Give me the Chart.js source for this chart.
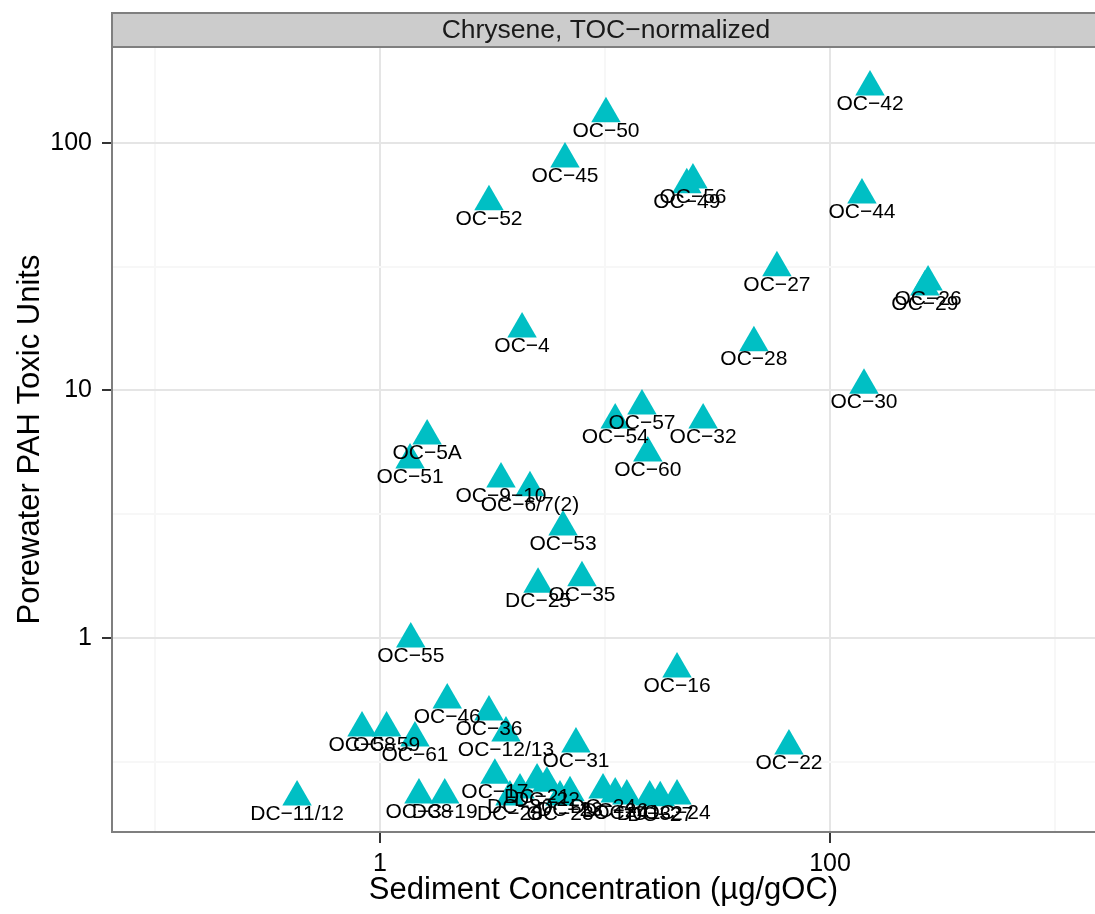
<!DOCTYPE html>
<html>
<head>
<meta charset="utf-8">
<script src="https://cdn.jsdelivr.net/npm/chart.js@4.4.0/dist/chart.umd.min.js"></script>
<style>
  html, body { margin: 0; padding: 0; background: #fff; }
  #wrap { width: 1095px; height: 914px; }
</style>
</head>
<body>
<div id="wrap"><canvas id="grafico" width="1095" height="914"></canvas></div>
<script>
// dados (escala log-log)
const siteLabels = [
  'OC−42', 'OC−50', 'OC−45', 'OC−56', 'OC−49', 'OC−52', 'OC−44', 'OC−27', 'OC−26', 'OC−29',
  'OC−28', 'OC−30', 'OC−4', 'OC−57', 'OC−54', 'OC−32', 'OC−60', 'OC−5A', 'OC−51', 'OC−9−10',
  'OC−6/7(2)', 'OC−53', 'DC−25', 'OC−35', 'OC−55', 'OC−16', 'OC−22', 'OC−46', 'OC−36', 'OC−12/13',
  'OC−58', 'OC−59', 'OC−61', 'OC−31', 'DC−11/12', 'OC−38', 'DC−19', 'OC−17', 'DC−28', 'DC−20',
  'DC−21', 'DC−22', 'OC−23', 'DC−23', 'DC−24', 'DC−26', 'OC−41', 'DC−32', 'DC−27', 'OC−24'
];
const sedimentConc = [
  150.6, 10.1, 6.64, 24.6, 23.1, 3.05, 138.7, 58.1, 272.8, 264,
  45.9, 141.6, 4.28, 14.6, 11.1, 27.3, 15.5, 1.62, 1.36, 3.45,
  4.64, 6.51, 5.04, 7.9, 1.37, 20.9, 65.7, 1.99, 3.05, 3.63,
  0.832, 1.07, 1.43, 7.43, 0.428, 1.49, 1.94, 3.24, 3.78, 4.19,
  4.99, 5.52, 6.31, 6.99, 9.8, 11.1, 12.5, 15.8, 17.6, 20.9
];
const toxicUnits = [
  168, 131, 86.1, 70.8, 67.7, 57.8, 61.6, 31.3, 27.4, 26.2,
  15.6, 10.5, 17.7, 8.66, 7.6, 7.6, 5.59, 6.55, 5.24, 4.39,
  4.04, 2.81, 1.65, 1.75, 0.99, 0.749, 0.366, 0.562, 0.502, 0.413,
  0.433, 0.433, 0.394, 0.373, 0.228, 0.232, 0.232, 0.279, 0.228, 0.243,
  0.267, 0.259, 0.228, 0.237, 0.243, 0.234, 0.230, 0.228, 0.226, 0.230
];
const xMajorTicks = [1, 100];
const xMinorTicks = [0.1, 10, 1000];
const yMajorTicks = [1, 10, 100];
const yMinorTicks = [0.3162, 3.162, 31.62];
const stripTitle = 'Chrysene, TOC−normalized';

const fonte = '"Liberation Sans", Arial, sans-serif';
Chart.defaults.font.family = fonte;
Chart.defaults.color = '#000';

const pontos = sedimentConc.map((x, i) => ({ x: x, y: toxicUnits[i] }));

function corGrade(majors) {
  return ctx => majors.includes(ctx.tick.value) ? '#E5E5E5' : '#F7F7F7';
}
function corTick(majors) {
  return ctx => majors.includes(ctx.tick.value) ? '#333333' : 'rgba(0,0,0,0)';
}

// faixa do título e borda do painel
const painel = {
  id: 'painel',
  beforeDraw(chart) {
    const c = chart.ctx;
    c.save();
    c.fillStyle = '#fff';
    c.fillRect(0, 0, chart.width, chart.height);
    c.restore();
  },
  afterDraw(chart) {
    const c = chart.ctx;
    const a = chart.chartArea;
    c.save();
    c.fillStyle = '#CCCCCC';
    c.fillRect(a.left, 13, a.right - a.left, a.top - 13);
    c.strokeStyle = '#7F7F7F';
    c.lineWidth = 2;
    c.strokeRect(a.left, 13, a.right - a.left + 4, a.top - 13);
    c.fillStyle = '#1A1A1A';
    c.font = '26.5px ' + fonte;
    c.textAlign = 'center';
    c.textBaseline = 'middle';
    c.fillText(stripTitle, 606, 31);
    c.strokeRect(a.left, a.top, a.right - a.left + 4, a.bottom - a.top);
    c.restore();
  }
};

// rótulos de cada ponto
const rotulos = {
  id: 'rotulos',
  afterDatasetsDraw(chart) {
    const c = chart.ctx;
    const meta = chart.getDatasetMeta(0);
    c.save();
    c.fillStyle = '#000';
    c.font = '21px ' + fonte;
    c.textAlign = 'center';
    c.textBaseline = 'middle';
    meta.data.forEach((p, i) => {
      c.fillText(siteLabels[i], p.x, p.y + 17);
    });
    c.restore();
  }
};

new Chart(document.getElementById('grafico'), {
  type: 'scatter',
  data: {
    datasets: [{
      data: pontos,
      pointStyle: 'triangle',
      pointRadius: 17,
      backgroundColor: '#00BFC4',
      borderWidth: 0
    }]
  },
  options: {
    responsive: false,
    animation: false,
    events: [],
    layout: { autoPadding: false, padding: { left: 0, right: 0, top: 47, bottom: 0 } },
    plugins: { legend: { display: false }, tooltip: { enabled: false } },
    scales: {
      x: {
        type: 'logarithmic',
        min: 0.0644,
        max: 1506,
        afterFit(s) { s.height = 82; s.paddingLeft = 0; s.paddingRight = 0; },
        afterBuildTicks(s) {
          s.ticks = xMinorTicks.concat(xMajorTicks).sort((a, b) => a - b).map(v => ({ value: v }));
        },
        ticks: {
          autoSkip: false,
          maxRotation: 0,
          padding: 6,
          color: '#000',
          font: { size: 25 },
          callback: v => xMajorTicks.includes(v) ? String(v) : ''
        },
        grid: {
          color: corGrade(xMajorTicks),
          lineWidth: 2,
          tickLength: 11,
          tickColor: corTick(xMajorTicks),
          tickWidth: 2
        },
        border: { display: false },
        title: {
          display: true,
          text: 'Sediment Concentration (µg/gOC)',
          font: { size: 31 },
          color: '#000',
          padding: { top: 0, bottom: 5 }
        }
      },
      y: {
        type: 'logarithmic',
        min: 0.1645,
        max: 244,
        afterFit(s) { s.width = 112; },
        afterBuildTicks(s) {
          s.ticks = yMinorTicks.concat(yMajorTicks).sort((a, b) => a - b).map(v => ({ value: v }));
        },
        ticks: {
          autoSkip: false,
          padding: 10,
          color: '#000',
          font: { size: 25 },
          callback: v => yMajorTicks.includes(v) ? String(v) : ''
        },
        grid: {
          color: corGrade(yMajorTicks),
          lineWidth: 2,
          tickLength: 10,
          tickColor: corTick(yMajorTicks),
          tickWidth: 2
        },
        border: { display: false },
        title: {
          display: true,
          text: 'Porewater PAH Toxic Units',
          font: { size: 31 },
          color: '#000',
          padding: { top: 12, bottom: 0 }
        }
      }
    }
  },
  plugins: [painel, rotulos]
});
</script>
</body>
</html>
